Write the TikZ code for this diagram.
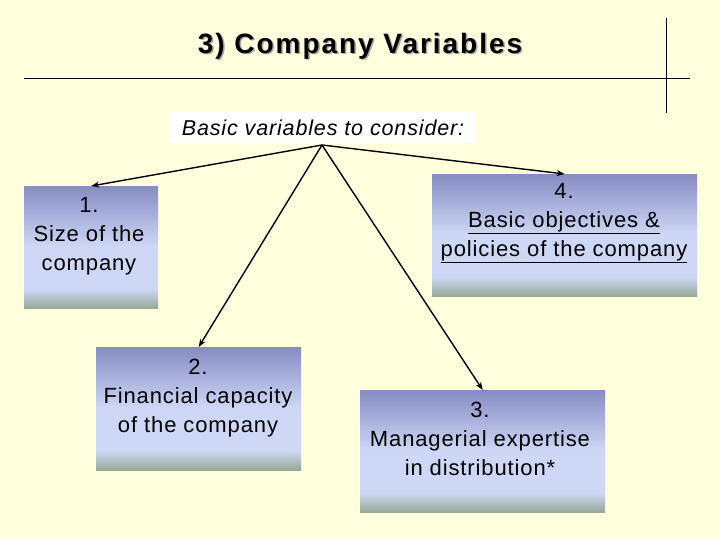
\documentclass[tikz,border=0pt]{standalone}
\usepackage{fontspec}
\setmainfont{Liberation Sans}
\newfontfamily\bodyfont[LetterSpace=4]{Liberation Sans}
\newfontfamily\titlefont[LetterSpace=7]{Liberation Sans}
\usetikzlibrary{arrows.meta}
\definecolor{bg}{RGB}{255,255,221}
\definecolor{btop}{RGB}{135,140,196}
\definecolor{bmid}{RGB}{206,216,246}
\definecolor{bbot}{RGB}{150,168,150}
\pgfdeclareverticalshading{boxshade}{100bp}{color(0bp)=(bbot); color(25bp)=(bbot); color(33bp)=(bmid); color(50bp)=(bmid); color(75bp)=(btop); color(100bp)=(btop)}
\begin{document}
\begin{tikzpicture}[x=1pt,y=-1pt,
  box/.style={rectangle, shading=boxshade, inner sep=0pt, anchor=north west},
  txt/.style={align=center, inner sep=0pt, font=\bodyfont\fontsize{22}{29}\selectfont},
  arr/.style={-{Stealth[length=8pt,width=6pt]}, line width=1.4pt},
  rule/.style={line width=0.9pt}]
\fill[bg] (0,0) rectangle (720,540);
\useasboundingbox (0,0) rectangle (720,540);
% title
\node[text=black!35, font=\titlefont\bfseries\fontsize{28}{34}\selectfont] (titleshadow) at (361.5,47.5) {3) Company Variables};
\node[font=\titlefont\bfseries\fontsize{28}{34}\selectfont] (title) at (360,46) {3) Company Variables};
\draw[rule] (24,78) -- (690,78);
\draw[rule] (666,18) -- (666,113);
% header
\node[fill=white, minimum width=306pt, minimum height=31pt, inner sep=0pt,
      font=\bodyfont\itshape\fontsize{21.5}{25}\selectfont] (basic) at (323,127.5) {Basic variables to consider:};
% boxes
\node[box, minimum width=134pt, minimum height=122pt] (b1) at (24,186) {};
\node[box, minimum width=265pt, minimum height=122pt] (b4) at (432,174) {};
\node[box, minimum width=205pt, minimum height=123pt] (b2) at (96,347) {};
\node[box, minimum width=245pt, minimum height=122pt] (b3) at (360,390) {};
% texts
\node[txt] (t1) at (89,236) {1.\\Size of the\\company};
\node[txt] (t4) at (564,223) {4.\\\underline{Basic objectives \&}\\\underline{policies of the company}};
\node[txt] (t2) at (198,398) {2.\\Financial capacity\\of the company};
\node[txt] (t3) at (480,439) {3.\\Managerial expertise\\in distribution*};
% arrows
\coordinate (src) at (322,145);
\draw[arr] (src) -- (b1.north);
\draw[arr] (src) -- (b4.north);
\draw[arr] (src) -- (b2.north);
\draw[arr] (src) -- (b3.north);
\end{tikzpicture}
\end{document}
